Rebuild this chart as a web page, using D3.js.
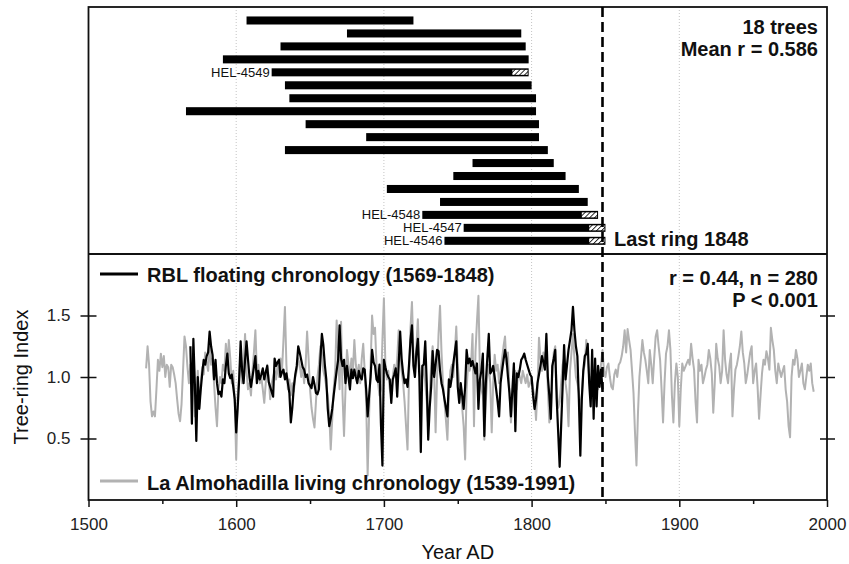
<!DOCTYPE html>
<html lang="en">
<meta charset="utf-8">
<title>RBL floating chronology</title>
<script src="https://d3js.org/d3.v7.min.js"></script>
<body>
<div id="chart"></div>
</body>
<style>
body { margin: 0; background: white; }
.tick text { font-family: "Liberation Sans", Arial, sans-serif; font-size: 17px; fill: #222; }
.lbl { font-family: "Liberation Sans", Arial, sans-serif; fill: #111; }
.bold { font-weight: bold; font-size: 20px; }
</style>
<script>
// tree bars in the top panel (years)
const barStart = [1607, 1675, 1630, 1591, 1624, 1633, 1636, 1566, 1647, 1688, 1633, 1760, 1747, 1702, 1738, 1726, 1754, 1741];
const barEnd   = [1720, 1793, 1796, 1798, 1798, 1800, 1803, 1803, 1805, 1805, 1811, 1815, 1823, 1832, 1838, 1845, 1850, 1850];
const barLabel = ["", "", "", "", "HEL-4549", "", "", "", "", "", "", "", "", "", "", "HEL-4548", "HEL-4547", "HEL-4546"];
const hatchFrom = [null, null, null, null, 1787, null, null, null, null, null, null, null, null, null, null, 1834, 1839, 1839];

// RBL floating chronology, 1569-1848
const rblStart = 1569;
const rblIndex = [
  1.25,0.62,1.31,0.95,0.48,1.00,0.74,0.90,1.03,1.14,
  1.10,1.17,1.20,1.37,1.25,1.18,0.98,1.14,0.95,0.86,
  0.88,0.84,0.98,0.95,1.09,1.19,1.03,0.99,1.02,0.92,
  0.82,0.55,0.75,0.98,1.29,1.05,0.95,1.14,1.29,1.14,
  1.00,0.92,1.00,1.08,1.17,0.95,1.05,0.98,1.02,1.07,
  0.98,1.04,1.09,0.96,0.92,0.88,0.84,1.15,1.09,1.12,
  1.14,1.00,1.04,1.06,0.98,1.03,0.95,0.87,0.63,0.75,
  0.92,1.02,1.09,1.25,1.20,1.14,1.08,1.06,1.00,1.02,
  0.95,0.93,0.91,1.00,0.94,0.87,0.86,0.90,1.14,1.35,
  1.26,1.10,0.98,0.74,0.60,0.66,0.74,0.85,0.95,1.05,
  1.14,1.42,1.15,1.09,1.14,0.95,1.09,1.00,0.90,1.06,
  0.99,1.06,1.00,0.95,1.05,1.00,0.98,1.07,1.06,0.90,
  0.68,0.85,1.00,1.22,1.12,1.09,0.98,0.96,1.10,0.62,
  0.28,1.14,1.08,1.03,1.00,0.98,0.79,0.98,1.02,1.07,
  0.84,1.10,1.37,1.15,1.03,0.95,0.98,0.92,1.10,1.30,
  1.42,1.09,1.00,1.20,1.31,1.00,0.39,1.09,1.10,1.29,
  0.95,0.49,0.75,0.92,1.21,1.00,1.10,1.22,1.21,1.05,
  0.95,0.90,0.82,0.75,0.68,0.98,0.92,1.00,1.11,1.20,
  1.29,0.92,0.79,0.95,0.85,0.74,0.92,1.22,1.11,1.15,
  1.09,1.13,1.08,1.03,1.11,0.74,0.98,1.05,1.19,0.52,
  0.95,1.15,1.35,1.03,1.05,1.09,1.00,0.90,0.80,0.68,
  0.95,1.05,1.14,1.22,1.15,1.00,0.87,0.68,0.90,1.11,
  0.56,1.03,1.00,1.06,1.14,1.16,1.19,1.14,1.10,1.06,
  1.02,1.00,0.85,0.74,0.82,0.95,1.02,1.09,1.17,1.12,
  1.06,1.35,1.00,0.85,0.66,1.09,1.15,1.22,0.82,0.55,
  0.27,0.60,0.92,1.26,0.98,1.10,1.22,1.30,1.38,1.57,
  1.38,1.25,1.17,0.82,0.36,0.82,1.05,1.17,1.19,1.27,
  0.95,0.76,1.22,0.66,1.15,0.76,1.09,0.92,1.06,0.90
];

// La Almohadilla living chronology, 1539-1991
const almStart = 1539;
const almIndex = [
  1.07,1.25,1.10,0.80,0.68,0.72,0.68,0.90,1.14,1.05,
  1.19,1.08,1.17,1.00,1.10,1.08,0.92,1.10,1.08,1.02,
  0.95,0.82,0.70,0.64,0.78,1.05,1.33,1.25,1.08,0.95,
  1.10,0.85,1.15,0.68,0.80,1.05,0.75,0.95,1.08,1.02,
  1.20,1.12,1.05,1.25,1.10,1.15,0.95,0.75,0.60,0.90,
  1.00,0.95,1.10,1.05,1.27,1.10,1.30,1.15,0.95,1.05,
  0.80,0.33,0.85,1.00,1.20,0.95,1.10,1.35,1.05,0.90,
  0.95,0.85,1.05,1.20,1.38,1.05,1.10,0.95,1.00,0.90,
  0.79,0.95,1.10,1.00,0.82,0.95,1.00,1.05,0.98,1.10,
  1.00,1.15,1.05,1.30,1.57,1.10,0.90,0.98,0.85,0.95,
  0.88,1.00,1.05,1.15,1.10,1.00,1.08,0.95,1.10,1.37,
  1.15,0.90,0.75,0.66,0.59,0.80,1.00,1.10,1.25,1.20,
  1.05,1.00,0.92,0.85,0.70,0.41,0.65,0.90,1.05,1.46,
  1.20,0.90,1.45,0.85,0.52,0.90,1.22,1.10,1.00,1.15,
  1.05,1.30,1.10,1.00,1.10,0.95,1.15,1.27,1.05,0.80,
  0.20,0.70,1.10,1.50,1.35,1.40,1.10,0.95,0.85,0.90,
  1.30,1.64,1.10,0.98,1.05,0.90,0.85,1.00,1.10,1.00,
  1.15,1.38,1.20,1.05,0.95,0.80,0.60,0.41,1.00,1.40,
  1.61,1.20,1.05,1.25,1.47,1.10,0.90,1.00,1.10,0.95,
  0.80,0.60,0.85,1.10,1.25,1.05,0.55,1.00,1.35,1.58,
  1.20,0.95,0.80,0.65,0.49,0.85,1.05,1.10,1.00,1.20,
  1.41,1.10,0.95,0.90,0.75,0.60,0.33,0.90,1.10,1.05,
  1.10,1.35,0.60,1.20,1.45,1.66,1.05,0.90,0.85,0.49,
  0.80,1.00,1.10,0.95,0.55,0.95,1.18,1.05,1.10,0.95,
  1.05,1.15,1.25,1.33,1.10,1.20,0.90,0.63,0.80,1.00,
  1.05,0.90,1.05,1.00,0.95,1.05,1.00,0.95,1.02,0.92,
  0.95,1.00,0.90,0.85,0.65,0.90,1.32,1.15,1.05,1.20,
  1.10,1.25,0.90,0.63,0.70,1.00,1.20,1.25,0.90,0.75,
  0.80,0.95,1.10,1.15,0.95,0.85,0.60,1.05,1.20,1.35,
  1.15,1.00,0.95,0.88,0.70,0.85,1.05,1.10,1.30,1.15,
  1.00,0.95,1.05,0.85,1.00,0.95,0.90,1.00,1.10,1.22,
  1.05,1.00,1.08,1.11,1.00,0.92,0.90,1.02,1.06,1.00,
  1.10,1.12,1.17,1.25,1.38,1.20,1.39,1.30,1.22,1.05,
  0.87,0.55,0.28,0.70,1.00,1.15,1.30,1.20,1.14,1.05,
  0.95,1.22,1.10,0.95,1.15,1.33,1.38,1.25,1.14,0.90,
  0.63,0.95,1.19,1.25,1.38,1.22,0.85,0.63,0.95,1.11,
  1.00,0.60,0.90,1.11,1.05,1.08,1.11,1.14,1.10,1.27,
  1.15,1.06,0.80,0.63,1.14,1.05,1.10,0.95,1.00,1.06,
  1.10,1.22,1.15,1.03,0.71,0.95,1.27,1.15,1.09,0.95,
  1.05,1.38,1.14,1.02,0.95,1.10,1.19,0.68,0.90,1.06,
  1.10,1.17,1.25,1.37,1.20,1.11,0.95,1.02,1.11,1.20,
  1.25,0.95,1.05,1.11,0.92,0.66,0.85,1.03,1.14,1.10,
  1.21,1.15,1.06,1.40,1.30,1.22,1.05,0.95,1.11,1.05,
  1.00,1.05,1.09,0.90,0.80,0.60,0.51,1.00,1.14,1.10,
  1.22,1.15,1.00,1.05,1.11,0.95,0.90,1.00,1.10,1.05,
  1.11,0.95,0.88
];

const lastRing = 1848;
const xTicks = [1500, 1600, 1700, 1800, 1900, 2000];
const xMinor = [1550, 1650, 1750, 1850, 1950];
const yTicks = [0.5, 1.0, 1.5];

// layout
const W = 849, H = 564;
const plotLeft = 88.5, plotRight = 827, plotTop = 7, plotMid = 254, plotBottom = 500;

const svg = d3.select("#chart").append("svg")
  .attr("width", W).attr("height", H);

const x = d3.scaleLinear().domain([1500, 2000]).range([plotLeft, plotRight]);
const y = d3.scaleLinear().domain([0, 2]).range([plotBottom, plotMid]);
const row = d3.scaleBand().domain(d3.range(barStart.length))
  .range([14, 247.3]).paddingInner(0.38).paddingOuter(0.19);

// hatch pattern for the sapwood parts
const defs = svg.append("defs");
const pat = defs.append("pattern")
  .attr("id", "hatch").attr("patternUnits", "userSpaceOnUse")
  .attr("width", 3.5).attr("height", 3.5)
  .attr("patternTransform", "rotate(45)");
pat.append("rect").attr("width", 3.5).attr("height", 3.5).attr("fill", "white");
pat.append("line").attr("x1", 0).attr("y1", 0).attr("x2", 0).attr("y2", 3.5)
  .attr("stroke", "black").attr("stroke-width", 1.6);

// dotted grid
svg.append("g").selectAll("line")
  .data([1600, 1700, 1800, 1900]).enter().append("line")
  .attr("x1", d => x(d)).attr("x2", d => x(d))
  .attr("y1", plotTop).attr("y2", plotBottom)
  .attr("stroke", "#c4c4c4").attr("stroke-width", 1)
  .attr("stroke-dasharray", "1,2");

// ---- top panel: tree bars ----
const bars = svg.append("g");
bars.selectAll("rect.bar")
  .data(barStart).enter().append("rect")
  .attr("class", "bar")
  .attr("x", (d, i) => x(d))
  .attr("width", (d, i) => x(barEnd[i]) - x(d))
  .attr("y", (d, i) => row(i))
  .attr("height", row.bandwidth())
  .attr("fill", "black");

bars.selectAll("rect.sap")
  .data(hatchFrom.map((h, i) => ({h: h, i: i})).filter(d => d.h !== null))
  .enter().append("rect")
  .attr("class", "sap")
  .attr("x", d => x(d.h))
  .attr("width", d => x(barEnd[d.i]) - x(d.h) - 1)
  .attr("y", d => row(d.i) + 1.5)
  .attr("height", row.bandwidth() - 3)
  .attr("fill", "url(#hatch)");

bars.selectAll("text")
  .data(barLabel.map((l, i) => ({l: l, i: i})).filter(d => d.l !== ""))
  .enter().append("text")
  .attr("class", "lbl")
  .attr("x", d => x(barStart[d.i]) - 2)
  .attr("y", d => row(d.i) + row.bandwidth() / 2 + 4.6)
  .attr("text-anchor", "end")
  .style("font-size", "13px")
  .text(d => d.l);

// ---- bottom panel: chronologies ----
const line = d3.line()
  .x(d => x(d.year)).y(d => y(d.v));

const alm = almIndex.map((v, i) => ({year: almStart + i, v: v}));
const rbl = rblIndex.map((v, i) => ({year: rblStart + i, v: v}));

svg.append("path").datum(alm)
  .attr("d", line).attr("fill", "none")
  .attr("stroke", "#b2b2b2").attr("stroke-width", 2)
  .attr("stroke-linejoin", "round");

svg.append("path").datum(rbl)
  .attr("d", line).attr("fill", "none")
  .attr("stroke", "black").attr("stroke-width", 2.2)
  .attr("stroke-linejoin", "round");

// frame
svg.append("rect")
  .attr("x", plotLeft).attr("y", plotTop)
  .attr("width", plotRight - plotLeft).attr("height", plotBottom - plotTop)
  .attr("fill", "none").attr("stroke", "#111").attr("stroke-width", 1.8);
svg.append("line")
  .attr("x1", plotLeft).attr("x2", plotRight).attr("y1", plotMid).attr("y2", plotMid)
  .attr("stroke", "#111").attr("stroke-width", 1.8);

// last ring marker
svg.append("line")
  .attr("x1", x(lastRing)).attr("x2", x(lastRing))
  .attr("y1", plotTop).attr("y2", plotBottom)
  .attr("stroke", "black").attr("stroke-width", 2.6)
  .attr("stroke-dasharray", "10,5");

// axes
svg.append("g")
  .attr("transform", "translate(" + plotLeft + ",0)")
  .call(d3.axisLeft(y).tickValues(yTicks).tickFormat(d3.format(".1f"))
    .tickSize(8).tickPadding(10))
  .call(g => g.select(".domain").remove())
  .call(g => g.selectAll(".tick line").attr("x1", 8).attr("x2", -8)
    .attr("stroke", "#111").attr("stroke-width", 1.5));

svg.append("g")
  .attr("transform", "translate(" + plotRight + ",0)")
  .call(d3.axisRight(y).tickValues(yTicks).tickFormat("").tickSize(8))
  .call(g => g.select(".domain").remove())
  .call(g => g.selectAll(".tick line").attr("x1", -7).attr("x2", 8)
    .attr("stroke", "#111").attr("stroke-width", 1.5));

svg.append("g")
  .attr("transform", "translate(0," + plotBottom + ")")
  .call(d3.axisBottom(x).tickValues(xTicks).tickFormat(d3.format("d"))
    .tickSize(7).tickPadding(11))
  .call(g => g.select(".domain").remove())
  .call(g => g.selectAll(".tick line").attr("stroke", "#111").attr("stroke-width", 1.5));

svg.append("g")
  .attr("transform", "translate(0," + plotBottom + ")")
  .call(d3.axisBottom(x).tickValues(xMinor).tickFormat("").tickSize(4))
  .call(g => g.select(".domain").remove())
  .call(g => g.selectAll(".tick line").attr("stroke", "#111").attr("stroke-width", 1.5));

// axis titles
svg.append("text").attr("class", "lbl")
  .attr("x", (plotLeft + plotRight) / 2).attr("y", 559)
  .attr("text-anchor", "middle").style("font-size", "20px")
  .text("Year AD");

svg.append("text").attr("class", "lbl")
  .attr("transform", "translate(28," + y(1) + ") rotate(-90)")
  .attr("text-anchor", "middle").style("font-size", "20px")
  .text("Tree-ring Index");

// legends
svg.append("line").attr("x1", 100).attr("x2", 138).attr("y1", 274).attr("y2", 274)
  .attr("stroke", "black").attr("stroke-width", 3);
svg.append("text").attr("class", "lbl bold").attr("x", 147).attr("y", 282)
  .text("RBL floating chronology (1569-1848)");

svg.append("line").attr("x1", 100).attr("x2", 138).attr("y1", 481).attr("y2", 481)
  .attr("stroke", "#b2b2b2").attr("stroke-width", 3);
svg.append("text").attr("class", "lbl bold").attr("x", 147).attr("y", 490)
  .text("La Almohadilla living chronology (1539-1991)");

// annotations
svg.append("text").attr("class", "lbl bold").attr("x", 818).attr("y", 34)
  .attr("text-anchor", "end").text("18 trees");
svg.append("text").attr("class", "lbl bold").attr("x", 818).attr("y", 56)
  .attr("text-anchor", "end").text("Mean r = 0.586");

svg.append("text").attr("class", "lbl bold").attr("x", 614).attr("y", 246)
  .text("Last ring 1848");

svg.append("text").attr("class", "lbl bold").attr("x", 818).attr("y", 285)
  .attr("text-anchor", "end").text("r = 0.44, n = 280");
svg.append("text").attr("class", "lbl bold").attr("x", 818).attr("y", 307)
  .attr("text-anchor", "end").text("P < 0.001");
</script>
</html>
